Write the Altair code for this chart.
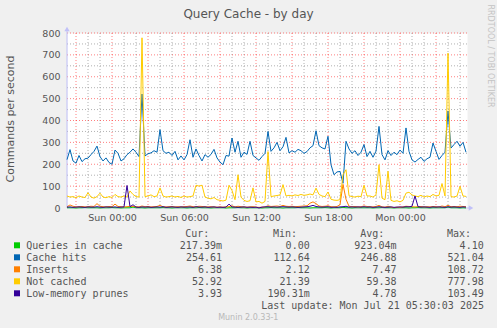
import json
import altair as alt
import pandas as pd

# ---------------- data ----------------
START_HOUR = -3.75          # Sat 20:15, hours relative to Sun 00:00
STEP_HOURS = 0.25           # one sample every 15 minutes
END_HOUR = 29.5 + 1 / 12    # Mon 05:35

queries_in_cache = [
    1, 1, 1, 0, 1, 1, 2, 1, 1, 1,
    1, 0, 1, 1, 1, 2, 1, 1, 0, 1,
    1, 1, 4.1, 1, 1, 1, 0, 1, 1, 1,
    1, 1, 2, 1, 1, 0, 1, 1, 1, 1,
    0, 1, 1, 1, 2, 1, 1, 1, 0, 1,
    1, 1, 1, 0, 1, 1, 1, 2, 1, 1,
    0, 1, 1, 1, 1, 0, 1, 1, 2, 1,
    1, 1, 0, 1, 1, 1, 1, 2, 1, 1,
    1, 0, 1, 1, 1, 1, 2, 1, 0, 1,
    1, 1, 3, 1, 1, 0, 1, 1, 1, 1,
    1, 1, 0, 1, 1, 2, 1, 1, 1, 0,
    1, 1, 1, 1, 0, 1, 1, 2, 1, 1,
    1, 0, 1, 1, 1, 1, 1, 4, 1, 1,
    1, 0, 1, 0.2,
]
cache_hits = [
    221, 267, 215, 205, 240, 212, 225, 228, 244, 259,
    283, 235, 215, 229, 208, 200, 265, 250, 215, 225,
    244, 255, 270, 255, 235, 521, 238, 248, 252, 262,
    255, 358, 262, 250, 255, 240, 259, 220, 238, 220,
    244, 312, 232, 270, 240, 215, 244, 232, 245, 268,
    229, 210, 198, 240, 237, 320, 255, 305, 232, 255,
    245, 305, 240, 229, 218, 235, 250, 350, 259, 275,
    300, 262, 280, 323, 252, 262, 255, 268, 262, 250,
    258, 275, 285, 353, 285, 275, 270, 328, 198, 152,
    165, 167, 113, 305, 270, 250, 262, 240, 255, 290,
    235, 259, 232, 260, 373, 244, 220, 262, 240, 255,
    244, 265, 250, 366, 259, 220, 210, 222, 232, 213,
    225, 232, 297, 259, 222, 240, 255, 443, 274, 290,
    305, 282, 300, 255,
]
inserts = [
    6, 14, 8, 5, 6, 7, 5, 6, 8, 7,
    20, 8, 6, 5, 7, 6, 18, 7, 6, 5,
    6, 8, 7, 6, 5, 9, 6, 7, 5, 6,
    7, 12, 6, 5, 6, 7, 5, 6, 5, 6,
    7, 9, 6, 5, 8, 7, 6, 5, 6, 5,
    4, 5, 4, 5, 6, 10, 5, 8, 6, 5,
    4, 5, 6, 4, 3, 4, 5, 10, 7, 8,
    9, 7, 12, 8, 7, 8, 6, 7, 8, 9,
    10, 22, 28, 20, 9, 7, 8, 10, 6, 5,
    7, 15, 108, 40, 8, 6, 7, 5, 6, 9,
    7, 6, 5, 7, 12, 5, 4, 8, 4, 2,
    4, 3, 5, 8, 7, 6, 5, 6, 7, 5,
    6, 5, 7, 6, 5, 9, 6, 12, 6, 7,
    6, 8, 7, 6,
]
not_cached = [
    55, 50, 52, 47, 55, 50, 48, 70, 50, 45,
    52, 68, 50, 47, 52, 48, 62, 52, 50, 55,
    50, 78, 62, 52, 50, 778, 52, 55, 60, 52,
    55, 92, 55, 50, 52, 55, 50, 53, 48, 55,
    50, 52, 55, 104, 100, 104, 50, 45, 42, 48,
    38, 35, 32, 36, 104, 80, 38, 152, 50, 35,
    30, 33, 92, 28, 30, 22, 30, 258, 52, 55,
    57, 60, 107, 55, 58, 55, 60, 57, 62, 58,
    60, 64, 60, 91, 62, 55, 52, 73, 40, 36,
    35, 38, 152, 175, 56, 52, 50, 54, 52, 104,
    55, 55, 50, 60, 198, 45, 38, 168, 35, 30,
    33, 28, 35, 68, 72, 60, 55, 52, 58, 50,
    55, 52, 62, 55, 58, 112, 55, 708, 52, 50,
    55, 99, 55, 53,
]
low_memory_prunes = [
    4, 5, 3, 4, 5, 4, 3, 5, 4, 4,
    6, 4, 3, 5, 4, 4, 5, 3, 4, 5,
    103, 6, 15, 4, 3, 5, 4, 5, 3, 4,
    5, 4, 6, 3, 4, 5, 4, 3, 5, 4,
    4, 5, 3, 6, 4, 4, 5, 3, 4, 5,
    3, 4, 3, 4, 18, 5, 4, 3, 4, 5,
    3, 4, 3, 4, 0.2, 4, 5, 6, 4, 5,
    4, 5, 6, 5, 4, 5, 4, 3, 4, 5,
    6, 8, 12, 7, 5, 4, 5, 6, 3, 4,
    3, 5, 6, 8, 4, 5, 4, 5, 4, 6,
    4, 5, 3, 4, 6, 4, 3, 4, 5, 3,
    4, 5, 4, 6, 5, 8, 55, 6, 4, 5,
    4, 3, 5, 4, 5, 4, 3, 6, 4, 5,
    4, 3, 5, 4,
]

series_names = ["Queries in cache", "Cache hits", "Inserts", "Not cached", "Low-memory prunes"]
series_colors = ["#00CC00", "#0066B3", "#FF8000", "#FFCC00", "#330099"]
series_values = [queries_in_cache, cache_hits, inserts, not_cached, low_memory_prunes]

legend_headers = ["Cur:", "Min:", "Avg:", "Max:"]
legend_cur = ["217.39m", "254.61", "6.38", "52.92", "3.93"]
legend_min = ["0.00", "112.64", "2.12", "21.39", "190.31m"]
legend_avg = ["923.04m", "246.88", "7.47", "59.38", "4.78"]
legend_max = ["4.10", "521.04", "108.72", "777.98", "103.49"]

x_tick_hours = [0, 6, 12, 18, 24]
x_tick_labels = ["Sun 00:00", "Sun 06:00", "Sun 12:00", "Sun 18:00", "Mon 00:00"]
y_tick_values = [0, 100, 200, 300, 400, 500, 600, 700, 800]
y_grid_values = [50, 100, 150, 200, 250, 300, 350, 400, 450, 500, 550, 600, 650, 700, 750, 800]
x_grid_hours = list(range(-3, 30))

title_text = "Query Cache - by day"
y_title_text = "Commands per second"
last_update_text = "Last update: Mon Jul 21 05:30:03 2025"
munin_text = "Munin 2.0.33-1"
rrd_text = "RRDTOOL / TOBI OETIKER"

n = len(cache_hits)
for s in series_values:
    assert len(s) == n
hours = [START_HOUR + STEP_HOURS * i for i in range(n)]

# ---------------- layout / style ----------------
W, H = 400, 175
TEXT = "#555555"
SANS = "DejaVu Sans"
MONO = "DejaVu Sans Mono"
AXIS_COL = "#c0c0f8"

label_expr = "{}[indexof({}, datum.value)]".format(json.dumps(x_tick_labels), json.dumps(x_tick_hours))

X_SCALE = alt.Scale(domain=[START_HOUR, END_HOUR], nice=False, zero=False)
Y_SCALE = alt.Scale(domain=[0, 800], nice=False, zero=True)
X_AXIS = alt.Axis(values=x_tick_hours, labelExpr=label_expr, title=None, grid=False, domain=False,
                  ticks=False, tickSize=0, labelPadding=4, labelFont=SANS, labelFontSize=9.5,
                  labelColor=TEXT, labelFlush=False, labelOverlap=False)
Y_AXIS = alt.Axis(values=y_tick_values, title=None, grid=False, domain=False, ticks=False, tickSize=0,
                  labelPadding=7, labelFont=SANS, labelFontSize=9.5, labelColor=TEXT, labelFlush=False,
                  labelOverlap=False)


def xenc(field="h"):
    return alt.X(f"{field}:Q", scale=X_SCALE, axis=X_AXIS)


def yenc(field="value"):
    return alt.Y(f"{field}:Q", scale=Y_SCALE, axis=Y_AXIS)


layers = []

# grid
ygrid = pd.DataFrame({"value": y_grid_values, "major": [v % 100 == 0 for v in y_grid_values]})
xgrid = pd.DataFrame({"h": x_grid_hours, "major": [h % 3 == 0 for h in x_grid_hours]})
for major, col, op in [(False, "#909090", 0.7), (True, "#ff0000", 0.5)]:
    layers.append(alt.Chart(ygrid[ygrid.major == major]).mark_rule(
        color=col, strokeOpacity=op, strokeDash=[1, 2], strokeWidth=1).encode(
        y=yenc(), x=alt.value(0), x2=alt.value(W)))
    layers.append(alt.Chart(xgrid[xgrid.major == major]).mark_rule(
        color=col, strokeOpacity=op, strokeDash=[1, 2], strokeWidth=1).encode(
        x=xenc(), y=alt.value(0), y2=alt.value(H)))

one = pd.DataFrame({"a": [0]})
# axis lines
layers.append(alt.Chart(one).mark_rule(color=AXIS_COL, strokeWidth=1).encode(
    x=alt.value(0), x2=alt.value(404), y=alt.value(H)))
layers.append(alt.Chart(one).mark_rule(color=AXIS_COL, strokeWidth=1).encode(
    x=alt.value(0), y=alt.value(-3), y2=alt.value(H)))

# series
for vals, col in zip(series_values, series_colors):
    df = pd.DataFrame({"h": hours, "value": vals})
    layers.append(alt.Chart(df).mark_line(color=col, strokeWidth=1).encode(x=xenc(), y=yenc()))

# arrows
layers.append(alt.Chart(one).mark_point(shape="triangle-up", filled=True, size=28, color=AXIS_COL, opacity=1).encode(
    x=alt.value(0), y=alt.value(-4)))
layers.append(alt.Chart(one).mark_point(shape="triangle-right", filled=True, size=28, color=AXIS_COL, opacity=1).encode(
    x=alt.value(404), y=alt.value(H)))

# texts
def single_text(text, x, y, **kw):
    props = dict(font=SANS, fontSize=10, color=TEXT, baseline="alphabetic", align="left")
    props.update(kw)
    return alt.Chart(one).mark_text(text=text, **props).encode(x=alt.value(x), y=alt.value(y))


layers.append(single_text(title_text, 181.5, -15, fontSize=12, align="center"))
layers.append(single_text(y_title_text, -56.5, 86, fontSize=11, align="center", baseline="middle", angle=270))
layers.append(single_text(rrd_text, 422.5, 23, fontSize=8, align="center", baseline="middle", angle=90,
                          color="#c4c4c4"))
layers.append(single_text(munin_text, 181.3, 287, fontSize=8, align="center", color="#b8b8b8"))
layers.append(single_text(last_update_text, 417, 276, font=MONO, align="right"))

# legend
row_y = [216, 228, 240, 252, 264]
NB = "\u00a0"


def pad(s):
    return s if s.endswith("m") else s + NB


leg = pd.DataFrame({
    "name": series_names,
    "color": series_colors,
    "cur": [pad(s) for s in legend_cur],
    "min": [pad(s) for s in legend_min],
    "avg": [pad(s) for s in legend_avg],
    "max": [pad(s) for s in legend_max],
    "py": row_y,
    "sy": [y - 3.7 for y in row_y],
})
layers.append(alt.Chart(leg).mark_square(size=36, opacity=1).encode(
    x=alt.value(-50), y=alt.Y("sy:Q", scale=None, axis=None), color=alt.Color("color:N", scale=None)))
layers.append(alt.Chart(leg).mark_text(font=MONO, fontSize=10, color=TEXT, align="left", baseline="alphabetic").encode(
    x=alt.value(-40.8), y=alt.Y("py:Q", scale=None, axis=None), text="name:N"))
for field, xr in [("cur", 155), ("min", 242.7), ("avg", 329.5), ("max", 416.7)]:
    layers.append(alt.Chart(leg).mark_text(font=MONO, fontSize=10, color=TEXT, align="right",
                                           baseline="alphabetic").encode(
        x=alt.value(xr), y=alt.Y("py:Q", scale=None, axis=None), text=f"{field}:N"))
for hdr, xl in zip(legend_headers, [118.3, 205.9, 293.3, 380.0]):
    layers.append(single_text(hdr, xl, 204, font=MONO))

chart = alt.layer(*layers).properties(
    width=W, height=H,
    autosize=alt.AutoSizeParams(type="none"),
    padding={"left": 67, "top": 33, "right": 30, "bottom": 120},
    background="#F0F0F0",
).configure_view(fill="#ffffff", stroke="transparent")

chart.save("out.html", embed_options={"renderer": "svg", "actions": False})
